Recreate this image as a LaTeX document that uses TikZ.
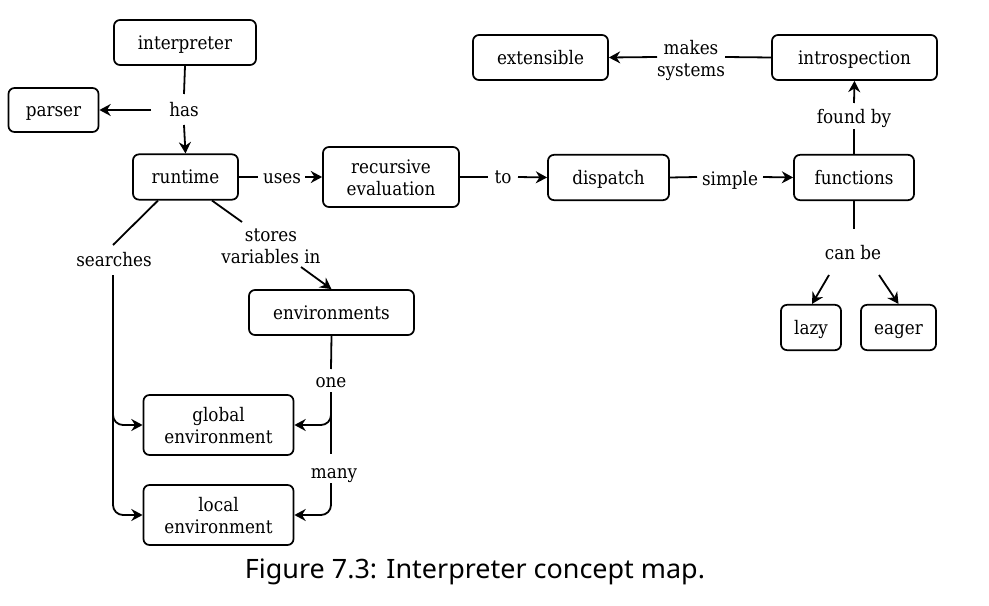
\documentclass[tikz,border=0pt]{standalone}
\usepackage{fontspec}
\usepackage{graphicx}
\setmainfont{DejaVu Serif}[FakeStretch=0.9]
\newfontfamily\capfont{Noto Sans}
\usetikzlibrary{arrows.meta,calc}
\newcommand{\nodefont}{\fontsize{14pt}{16.5pt}\selectfont}
\newcommand{\nstrut}{\rule[-3.35pt]{0pt}{16.5pt}}
\newcommand{\tstrut}{\rule{0pt}{14.5pt}}
\tikzset{
  box/.style={draw, rounded corners=4.5pt, line width=1.3pt, inner sep=0pt,
    align=center, font=\nodefont,
    execute at begin node={\nstrut}, execute at end node={\nstrut}},
  lbl/.style={inner sep=0pt, align=center, font=\nodefont,
    execute at begin node={\nstrut}, execute at end node={\nstrut}},
  conn/.style={line width=1.35pt},
  arr/.style={conn, -{Stealth[length=8.5pt,width=9pt,inset=2.8pt]}},
  rnd/.style={rounded corners=7.5pt},
}
\begin{document}
\begin{tikzpicture}[x=0.75pt,y=-0.75pt]
\useasboundingbox (0,0) rectangle (989,606);
% boxes
\node[box, minimum width=106.5pt, minimum height=33.75pt] (interp) at (185,42.5) {interpreter};
\node[box, minimum width=67.5pt, minimum height=33pt] (parser) at (53.5,110) {parser};
\node[box, minimum width=78.75pt, minimum height=34pt] (runtime) at (185.5,177) {runtime};
\node[box, minimum width=102pt, minimum height=45pt] (receval) at (391,177) {\tstrut recursive\\evaluation};
\node[box, minimum width=90.75pt, minimum height=34pt] (dispatch) at (608.5,177.5) {dispatch};
\node[box, minimum width=90pt, minimum height=34pt] (functions) at (854,177.5) {functions};
\node[box, minimum width=123.75pt, minimum height=33.75pt] (introspection) at (854.5,57.5) {introspection};
\node[box, minimum width=101.25pt, minimum height=33.75pt] (extensible) at (540.5,57.5) {extensible};
\node[box, minimum width=45pt, minimum height=34pt] (lazy) at (811,327.5) {lazy};
\node[box, minimum width=56.25pt, minimum height=34pt] (eager) at (898.5,327.5) {eager};
\node[box, minimum width=123.75pt, minimum height=33.75pt] (envs) at (331.5,312.5) {environments};
\node[box, minimum width=112.5pt, minimum height=45pt] (global) at (218.5,425) {\tstrut global\\environment};
\node[box, minimum width=112.5pt, minimum height=45pt] (local) at (218.5,515) {\tstrut local\\environment};
% labels
\node[lbl] (has) at (184,110) {has};
\node[lbl] (uses) at (282,177) {uses};
\node[lbl] (to) at (503,177) {to};
\node[lbl] (simple) at (730,179) {simple};
\node[lbl] (foundby) at (854,117) {found by};
\node[lbl] (makes) at (691,58) {\tstrut makes\\systems};
\node[lbl] (canbe) at (853,252.5) {can be};
\node[lbl] (searches) at (114,260) {searches};
\node[lbl] (stores) at (271,245) {\tstrut stores\\variables in};
\node[lbl] (one) at (331,381) {one};
\node[lbl] (many) at (334,472) {many};
% connectors
\draw[conn] (interp.south) -- ($(has)+(0,-16)$);
\draw[arr] ($(has)+(0,15)$) -- (runtime.north);
\draw[arr] ($(has)+(-33,0)$) -- (parser.east);
\draw[conn] (runtime.east) -- ($(uses)+(-24,0)$);
\draw[arr] ($(uses)+(23,0)$) -- (receval.west);
\draw[conn] (receval.east) -- ($(to)+(-15,0)$);
\draw[arr] ($(to)+(15,0)$) -- (dispatch.west);
\draw[conn] (dispatch.east) -- ($(simple)+(-33,-2)$);
\draw[arr] ($(simple)+(33,-2)$) -- (functions.west);
\draw[conn] (functions.north) -- ($(foundby)+(0,12)$);
\draw[arr] ($(foundby)+(0,-14)$) -- (introspection.south);
\draw[conn] (introspection.west) -- ($(makes)+(34,-1)$);
\draw[arr] ($(makes)+(-34,-1)$) -- (extensible.east);
\draw[conn] (functions.south) -- ($(canbe)+(1,-23.5)$);
\draw[arr] ($(canbe)+(-24,22.5)$) -- ($(lazy.north)+(1,0)$);
\draw[arr] ($(canbe)+(26,22.5)$) -- (eager.north);
\draw[conn] ($(runtime.south)+(-27.5,0)$) -- ($(searches)+(-1,-15)$);
\draw[arr, rnd] ($(searches)+(-1,15)$) |- (global.west);
\draw[arr, rnd] ($(searches)+(-1,15)$) |- (local.west);
\draw[conn] ($(runtime.south)+(26.5,0)$) -- ($(stores)+(-29,-23)$);
\draw[arr] ($(stores)+(30,22)$) -- (envs.north);
\draw[conn] (envs.south) -- ($(one)+(0,-12)$);
\draw[arr, rnd] ($(one)+(0,11)$) |- (global.east);
\draw[conn] ($(one)+(0,11)$) -- ($(many)+(-3,-18)$);
\draw[arr, rnd] ($(many)+(-3,11)$) |- (local.east);
% caption
\node[inner sep=0pt, anchor=base] (caption) at (475,578)
  {\resizebox{345pt}{\height}{\capfont\fontsize{20pt}{24pt}\selectfont Figure 7.3: Interpreter concept map.}};
\end{tikzpicture}
\end{document}
